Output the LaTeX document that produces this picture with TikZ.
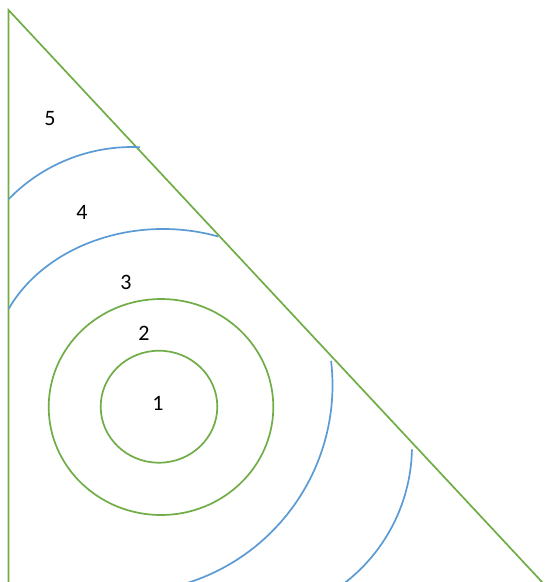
\documentclass[tikz,border=0pt]{standalone}
\usepackage{fontspec}
\setmainfont{Carlito}
\definecolor{offgreen}{HTML}{70AD47}
\definecolor{offblue}{HTML}{5B9BD5}
\begin{document}
\begin{tikzpicture}[x=1pt,y=-1pt,
  gline/.style={draw=offgreen,line width=1.7pt},
  bline/.style={draw=offblue,line width=1.7pt},
  lbl/.style={font=\fontsize{22}{24}\selectfont,inner sep=0pt,text=black}]
\useasboundingbox (0,0) rectangle (548,582);
\clip (0,0) rectangle (548,582);
\fill[white] (0,0) rectangle (548,582);
% triangle sides
\coordinate (apex) at (8.5,10);
\coordinate (bl) at (8.5,590);
\coordinate (br) at (549.5,590);
\draw[gline] (bl) -- (apex) -- (br);
% circles
\draw[gline] (159,406.7) ellipse [x radius=58.3, y radius=56];
\draw[gline] (161,407) ellipse [x radius=112.3, y radius=108];
% blue arcs (upper)
\draw[bline] ([shift={(-135.9:172)}]132,319) arc[start angle=-135.9, end angle=-87.3, radius=172];
\draw[bline] ([shift={(-154.8:170.7 and 139.4)}]163,368.4) arc[start angle=-154.8, end angle=-71.1, x radius=170.7, y radius=139.4];
% blue arcs (lower)
\draw[bline] ([shift={(-6.7:207.5)}]125,385) arc[start angle=-6.7, end angle=81, radius=207.5];
\draw[bline] ([shift={(1.1:173)}]239,446) arc[start angle=1.1, end angle=56.3, radius=173];
% labels
\node[lbl] (l5) at (50,119) {5};
\node[lbl] (l4) at (82,212) {4};
\node[lbl] (l3) at (126,282) {3};
\node[lbl] (l2) at (144,333) {2};
\node[lbl] (l1) at (158,403) {1};
\end{tikzpicture}
\end{document}
